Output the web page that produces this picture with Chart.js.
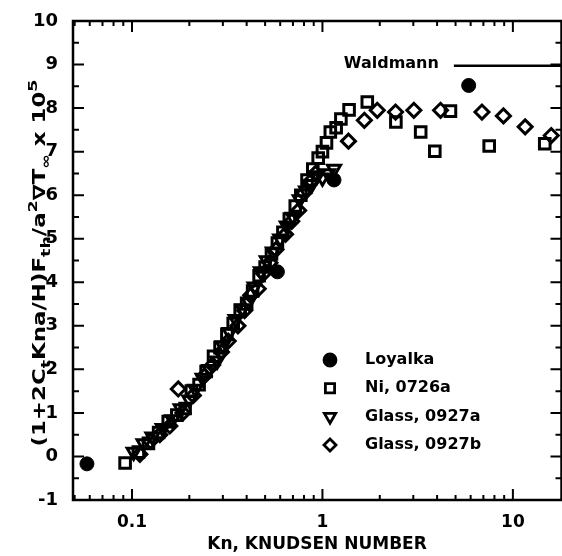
<!DOCTYPE html>
<html>
<head>
<meta charset="utf-8">
<script src="https://cdn.jsdelivr.net/npm/chart.js@4.4.1/dist/chart.umd.min.js"></script>
<style>
  html, body { margin: 0; padding: 0; overflow: hidden; background: #fff; }
</style>
</head>
<body>
<canvas id="myChart" width="572" height="556"></canvas>
<script>
// Knudsen number vs reduced thermophoretic force

const xTickValues = [0.1, 1, 10];
const xTickLabels = ["0.1", "1", "10"];

const loyalkaKn = [0.058, 0.58, 1.15, 5.86];
const loyalkaF = [-0.17, 4.24, 6.35, 8.52];

const niKn = [0.092, 0.108, 0.122, 0.138, 0.155, 0.172, 0.19, 0.205, 0.225, 0.245,
  0.268, 0.29, 0.315, 0.34, 0.37, 0.4, 0.43, 0.465, 0.5, 0.54,
  0.58, 0.62, 0.67, 0.72, 0.77, 0.83, 0.89, 0.95, 1.0, 1.05,
  1.1, 1.18, 1.25, 1.38, 1.72, 2.43, 3.28, 3.89, 4.7, 7.51, 14.7];
const niF = [-0.15, 0.1, 0.3, 0.55, 0.8, 0.95, 1.1, 1.5, 1.65, 1.95,
  2.3, 2.5, 2.8, 3.05, 3.35, 3.5, 3.8, 4.15, 4.35, 4.65,
  4.9, 5.15, 5.45, 5.75, 6.0, 6.35, 6.6, 6.85, 7.0, 7.2,
  7.45, 7.55, 7.75, 7.96, 8.14, 7.68, 7.45, 7.01, 7.93, 7.13, 7.18];

const glassAKn = [0.102, 0.115, 0.128, 0.145, 0.163, 0.18, 0.2, 0.215, 0.235, 0.255,
  0.28, 0.3, 0.325, 0.35, 0.38, 0.41, 0.44, 0.475, 0.51, 0.55,
  0.6, 0.65, 0.7, 0.76, 0.82, 0.88, 0.94, 1.0, 1.07, 1.15];
const glassAF = [0.1, 0.3, 0.45, 0.65, 0.85, 1.1, 1.3, 1.55, 1.8, 2.0,
  2.2, 2.55, 2.85, 3.15, 3.4, 3.55, 3.9, 4.25, 4.5, 4.7,
  5.0, 5.3, 5.5, 5.9, 6.1, 6.25, 6.45, 6.4, 6.5, 6.6];

const glassBKn = [0.11, 0.125, 0.14, 0.158, 0.175, 0.185, 0.21, 0.24, 0.265, 0.295,
  0.32, 0.36, 0.39, 0.42, 0.46, 0.49, 0.53, 0.57, 0.64, 0.69,
  0.75, 0.8, 0.86, 0.92, 1.37, 1.66, 1.94, 2.42, 3.02, 4.17,
  6.88, 8.92, 11.6, 15.9];
const glassBF = [0.05, 0.35, 0.5, 0.7, 1.55, 1.0, 1.4, 1.85, 2.1, 2.4,
  2.65, 3.0, 3.35, 3.7, 3.85, 4.2, 4.45, 4.75, 5.1, 5.4,
  5.65, 6.05, 6.3, 6.5, 7.24, 7.72, 7.95, 7.91, 7.95, 7.95,
  7.91, 7.82, 7.57, 7.37];

const waldmannKn = [4.9, 18];
const waldmannF = [8.97, 8.97];

const FONT = "'DejaVu Sans', 'Liberation Sans', sans-serif";

function pts(xs, ys) {
  return xs.map((x, i) => ({ x: x, y: ys[i] }));
}

// border, inward ticks, labels drawn on top of the plot
const extras = {
  id: "extras",
  afterDatasetsDraw(chart) {
    const { ctx, chartArea: a, scales } = chart;
    const x = scales.x, y = scales.y;
    ctx.save();
    ctx.strokeStyle = "#000";
    ctx.fillStyle = "#000";
    ctx.lineWidth = 2.5;
    ctx.strokeRect(a.left, a.top, a.right - a.left, a.bottom - a.top);

    ctx.lineWidth = 2;
    ctx.beginPath();
    for (let v = y.min; v <= y.max; v += 0.5) {
      const py = y.getPixelForValue(v);
      const len = Number.isInteger(v) ? 11 : 6;
      ctx.moveTo(a.left, py); ctx.lineTo(a.left + len, py);
      ctx.moveTo(a.right, py); ctx.lineTo(a.right - len, py);
    }
    [0.01, 0.1, 1, 10].forEach(d => {
      for (let m = 1; m <= 9; m++) {
        const v = m * d;
        if (v < x.min || v > x.max) continue;
        const px = x.getPixelForValue(v);
        const len = m === 1 ? 11 : 5;
        ctx.moveTo(px, a.bottom); ctx.lineTo(px, a.bottom - len);
        ctx.moveTo(px, a.top); ctx.lineTo(px, a.top + len);
      }
    });
    ctx.stroke();

    // Waldmann label
    ctx.font = "bold 16px " + FONT;
    ctx.textAlign = "right";
    ctx.textBaseline = "middle";
    const wy = y.getPixelForValue(waldmannF[0]);
    ctx.fillText("Waldmann", x.getPixelForValue(waldmannKn[0]) - 15, wy - 2);

    // legend
    const sets = chart.data.datasets.filter(d => d.inLegend);
    sets.forEach((d, i) => {
      const ly = 360 + i * 28.3;
      ctx.save();
      ctx.lineWidth = 2.8;
      ctx.strokeStyle = "#000";
      ctx.fillStyle = d.pointStyle === "circle" ? "#000" : "#fff";
      Chart.helpers.drawPoint(ctx, {
        pointStyle: d.pointStyle,
        radius: d.pointRadius - 1,
        rotation: d.pointRotation || 0,
        borderWidth: 2.8
      }, 330, ly);
      ctx.restore();
      ctx.font = "bold 16px " + FONT;
      ctx.textAlign = "left";
      ctx.fillText(d.label, 365, ly);
    });

    // x title
    ctx.font = "bold 17px " + FONT;
    ctx.textAlign = "center";
    ctx.fillText("Kn, KNUDSEN NUMBER", 317, 545);

    // y title with sub/superscripts
    const parts = [
      ["(1+2C", 0], ["t", 1], ["Kna/H)F", 0], ["th", 1], ["/a", 0], ["2", -1],
      ["\u2207T", 0], ["\u221e", 1], [" x 10", 0], ["5", -1]
    ];
    const big = "bold 17px " + FONT, small = "bold 13px " + FONT;
    let total = 0;
    parts.forEach(p => { ctx.font = p[1] ? small : big; total += ctx.measureText(p[0]).width; });
    ctx.translate(41, 263);
    ctx.rotate(-Math.PI / 2);
    ctx.scale(367 / total, 1);
    ctx.textAlign = "left";
    let cx = -total / 2;
    parts.forEach(p => {
      ctx.font = p[1] ? small : big;
      const off = p[1] === 1 ? 6 : p[1] === -1 ? -7 : 0;
      ctx.fillText(p[0], cx, off);
      cx += ctx.measureText(p[0]).width;
    });
    ctx.restore();
  }
};

Chart.defaults.color = "#000";
Chart.defaults.font.family = FONT;

const ctx = document.getElementById("myChart");

new Chart(ctx, {
  type: "scatter",
  data: {
    datasets: [
      {
        label: "Loyalka",
        inLegend: true,
        data: pts(loyalkaKn, loyalkaF),
        pointStyle: "circle",
        pointRadius: 7,
        backgroundColor: "#000",
        borderColor: "#000",
        borderWidth: 1,
      },
      {
        label: "Ni, 0726a",
        inLegend: true,
        data: pts(niKn, niF),
        pointStyle: "rect",
        pointRadius: 7.5,
        backgroundColor: "rgba(0,0,0,0)",
        borderColor: "#000",
        borderWidth: 3,
      },
      {
        label: "Glass, 0927a",
        inLegend: true,
        data: pts(glassAKn, glassAF),
        pointStyle: "triangle",
        pointRotation: 180,
        pointRadius: 7.5,
        backgroundColor: "rgba(0,0,0,0)",
        borderColor: "#000",
        borderWidth: 3,
      },
      {
        label: "Glass, 0927b",
        inLegend: true,
        data: pts(glassBKn, glassBF),
        pointStyle: "rectRot",
        pointRadius: 7,
        backgroundColor: "rgba(0,0,0,0)",
        borderColor: "#000",
        borderWidth: 3,
      },
      {
        label: "Waldmann",
        type: "line",
        data: pts(waldmannKn, waldmannF),
        showLine: true,
        pointRadius: 0,
        borderColor: "#000",
        borderWidth: 2.5,
      },
    ],
  },
  options: {
    responsive: false,
    maintainAspectRatio: false,
    animation: false,
    layout: { padding: { top: 21, right: 7, left: 0, bottom: 0 } },
    plugins: {
      legend: { display: false },
      tooltip: { enabled: false },
    },
    scales: {
      x: {
        type: "logarithmic",
        min: 0.049,
        max: 18,
        grid: { display: false },
        border: { display: false },
        afterBuildTicks: (scale) => {
          scale.ticks = xTickValues.map(v => ({ value: v }));
        },
        afterFit: (scale) => { scale.height = 56; },
        ticks: {
          autoSkip: false,
          maxRotation: 0,
          padding: 4,
          font: { size: 17, weight: "bold" },
          callback: (value, i) => xTickLabels[i],
        },
      },
      y: {
        min: -1,
        max: 10,
        grid: { display: false },
        border: { display: false },
        afterFit: (scale) => { scale.width = 73; },
        ticks: {
          stepSize: 1,
          padding: 7,
          font: { size: 18, weight: "bold" },
        },
      },
    },
  },
  plugins: [extras],
});
</script>
</body>
</html>
